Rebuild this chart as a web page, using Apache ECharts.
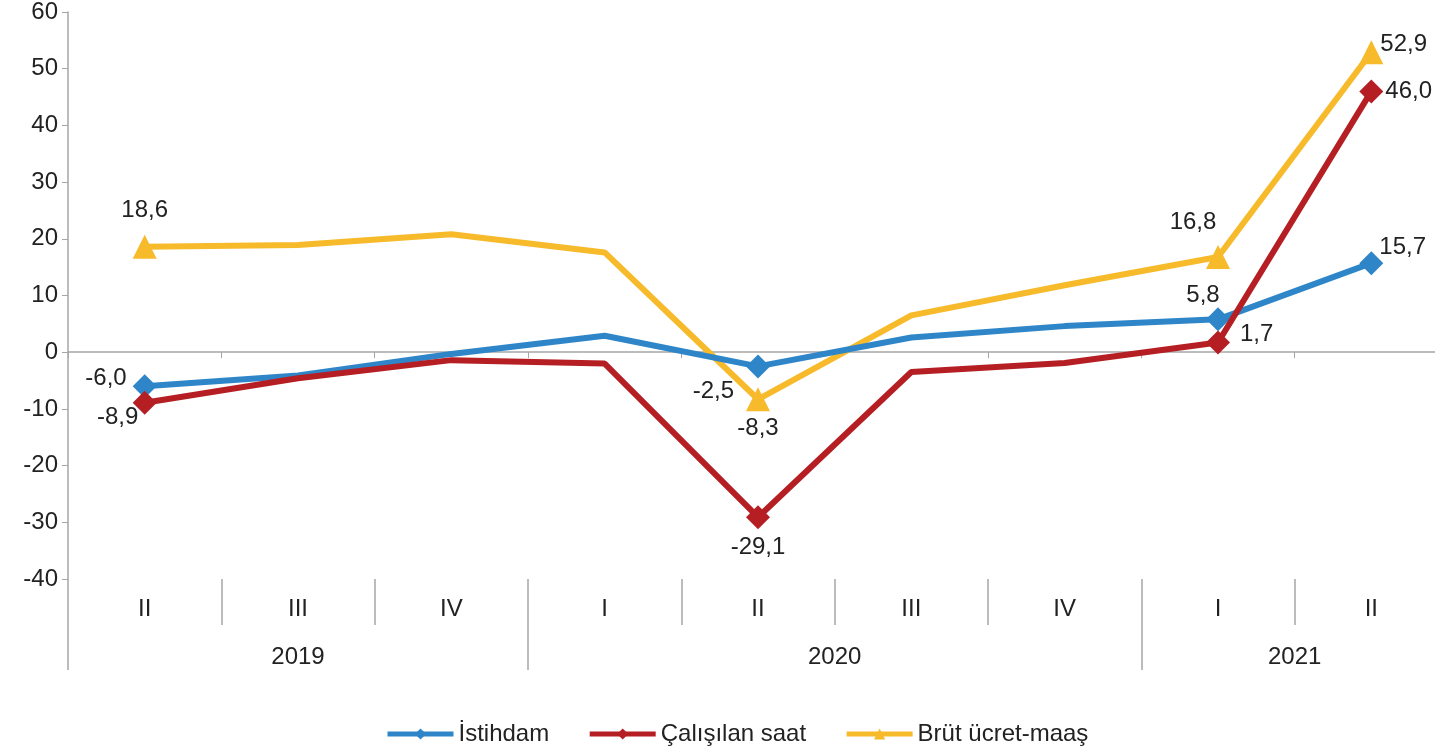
<!DOCTYPE html>
<html>
<head>
<meta charset="utf-8">
<script src="https://cdn.jsdelivr.net/npm/echarts@6/dist/echarts.min.js"></script>
<style>
  html, body { margin: 0; padding: 0; background: #fff; }
  #grafico { width: 1435px; height: 754px; }
</style>
</head>
<body>
<div id="grafico"></div>
<script>
// ceyrekler ve yillar
var ceyrekler = ['II', 'III', 'IV', 'I', 'II', 'III', 'IV', 'I', 'II'];
var yillar = ['2019', '2020', '2021'];
var yilSinirlari = [0, 3, 7, 9];      // yil ayrac cizgileri (kategori sinirlari)
var yilOrtalari = [1.5, 5, 8];        // yil etiketlerinin konumu

var istihdam = [-6.0, -4.1, -0.3, 2.9, -2.5, 2.6, 4.6, 5.8, 15.7];
var calisilanSaat = [-8.9, -4.6, -1.4, -2.0, -29.1, -3.5, -1.9, 1.7, 46.0];
var brutUcret = [18.6, 18.9, 20.8, 17.6, -8.3, 6.5, 11.8, 16.8, 52.9];

var isaretliNoktalar = [0, 4, 7, 8]; // sadece bu noktalarda isaret ve etiket var

var yaziTipi = 'Liberation Sans';
var yaziRengi = '#222';

function virgul(v) {
    return v.toFixed(1).replace('.', ',');
}

// etiket konumlari: [position, offset]
var etiketBlue = { 0: ['left', [0, -8]], 4: ['left', [-6, 25]], 7: ['top', [-15, 6]], 8: ['right', [-10, -16]] };
var etiketRed = { 0: ['bottom', [-27, -15]], 4: ['bottom', [0, 0]], 7: ['right', [4, -8]], 8: ['right', [-4, 0]] };
var etiketYel = { 0: ['top', [0, -6]], 4: ['bottom', [0, -1]], 7: ['top', [-25, -5]], 8: ['right', [-9, -8]] };

function veriHazirla(dizi, etiketler) {
    var sonuc = [];
    dizi.forEach(function (v, i) {
        if (isaretliNoktalar.indexOf(i) >= 0) {
            var e = etiketler[i];
            sonuc.push({
                value: v,
                label: {
                    show: true,
                    position: e[0],
                    offset: e[1],
                    distance: 6,
                    formatter: function () { return virgul(v); }
                }
            });
        } else {
            sonuc.push({ value: v, symbol: 'none' });
        }
    });
    return sonuc;
}

var myChart = echarts.init(document.getElementById('grafico'));

var etiketStil = { fontFamily: yaziTipi, fontSize: 24, color: yaziRengi };

var option = {
    animation: false,
    textStyle: { fontFamily: yaziTipi },
    grid: { left: 68, top: 12, width: 1380, height: 567, outerBoundsMode: 'none' },
    legend: {
        bottom: 8,
        left: 385,
        padding: 0,
        itemWidth: 66,
        itemHeight: 14,
        itemGap: 38,
        lineStyle: { width: 5 },
        textStyle: { fontFamily: yaziTipi, fontSize: 24, color: yaziRengi },
        data: ['İstihdam', 'Çalışılan saat', 'Brüt ücret-maaş']
    },
    xAxis: [
        {
            // sifir cizgisi
            type: 'category',
            data: ceyrekler,
            axisLine: { onZero: true, lineStyle: { color: '#a6a6a6', width: 1.5 } },
            axisTick: { show: true, length: 6, interval: 0, lineStyle: { color: '#a6a6a6' } },
            axisLabel: { show: false }
        },
        {
            // ceyrek etiketleri
            type: 'category',
            data: ceyrekler,
            position: 'bottom',
            axisLine: { show: false, onZero: false },
            axisTick: { show: true, length: 46, interval: 0, lineStyle: { color: '#a6a6a6', width: 1.5 } },
            axisLabel: Object.assign({ interval: 0, margin: 18 }, etiketStil)
        },
        {
            // yil etiketleri
            type: 'value',
            min: 0,
            max: 9,
            position: 'bottom',
            axisLine: { show: false, onZero: false },
            splitLine: { show: false },
            axisTick: { show: true, length: 91, customValues: yilSinirlari, lineStyle: { color: '#a6a6a6', width: 1.5 } },
            axisLabel: Object.assign({
                margin: 66,
                customValues: yilOrtalari,
                formatter: function (v) { return yillar[yilOrtalari.indexOf(v)] || ''; }
            }, etiketStil)
        }
    ],
    yAxis: {
        type: 'value',
        min: -40,
        max: 60,
        interval: 10,
        axisLine: { show: true, lineStyle: { color: '#a6a6a6', width: 1.5 } },
        axisTick: { show: true, length: 6, lineStyle: { color: '#a6a6a6' } },
        splitLine: { show: false },
        axisLabel: Object.assign({ margin: 10 }, etiketStil)
    },
    series: [
        {
            name: 'İstihdam',
            type: 'line',
            symbol: 'diamond',
            symbolSize: 24,
            color: '#2E86C9',
            lineStyle: { width: 6 },
            label: etiketStil,
            z: 3,
            data: veriHazirla(istihdam, etiketBlue)
        },
        {
            name: 'Çalışılan saat',
            type: 'line',
            symbol: 'diamond',
            symbolSize: 24,
            color: '#B51F24',
            lineStyle: { width: 6 },
            label: etiketStil,
            z: 4,
            data: veriHazirla(calisilanSaat, etiketRed)
        },
        {
            name: 'Brüt ücret-maaş',
            type: 'line',
            symbol: 'triangle',
            symbolSize: 24,
            color: '#F7BA2B',
            lineStyle: { width: 6 },
            label: etiketStil,
            z: 2,
            data: veriHazirla(brutUcret, etiketYel)
        }
    ]
};

myChart.setOption(option);
</script>
</body>
</html>
